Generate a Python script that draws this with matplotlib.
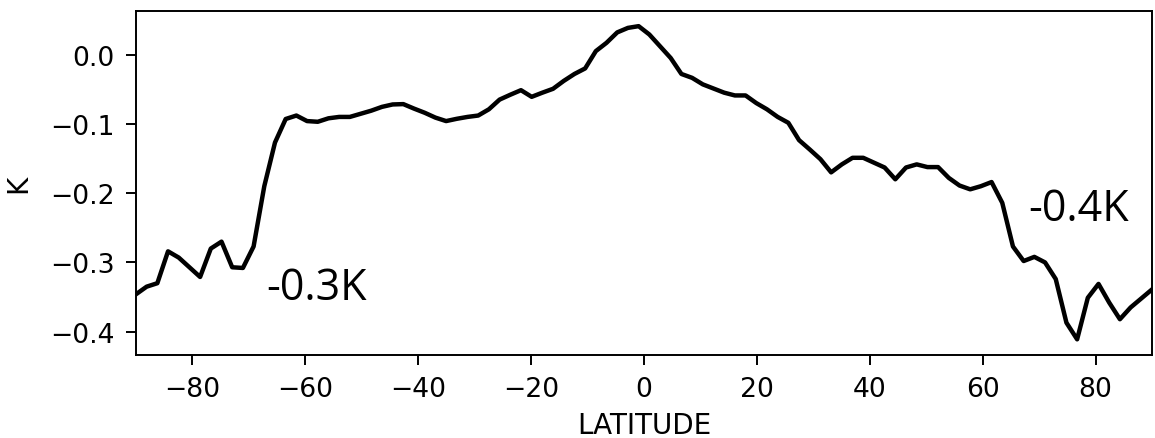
import numpy as np
import matplotlib
matplotlib.use("Agg")
import matplotlib.pyplot as plt

# zonal-mean temperature change on a regular 96-point latitude grid
lat = np.linspace(-90, 90, 96)
dT = [
    -0.346, -0.335, -0.330, -0.284, -0.293, -0.307, -0.321, -0.280, -0.270, -0.307,
    -0.308, -0.277, -0.190, -0.127, -0.093, -0.088, -0.096, -0.097, -0.092, -0.090,
    -0.090, -0.0855, -0.081, -0.0755, -0.072, -0.0715, -0.078, -0.084, -0.091, -0.096,
    -0.0927, -0.090, -0.088, -0.079, -0.065, -0.058, -0.0514, -0.061, -0.055, -0.0494,
    -0.038, -0.028, -0.020, 0.005, 0.017, 0.032, 0.0385, 0.041, 0.029, 0.012,
    -0.005, -0.028, -0.0336, -0.043, -0.049, -0.055, -0.059, -0.059, -0.070, -0.079,
    -0.090, -0.0985, -0.1235, -0.137, -0.151, -0.170, -0.1585, -0.149, -0.149, -0.156,
    -0.163, -0.180, -0.163, -0.1585, -0.1624, -0.1624, -0.178, -0.189, -0.1945, -0.190,
    -0.184, -0.214, -0.277, -0.298, -0.292, -0.300, -0.324, -0.387, -0.411, -0.351,
    -0.331, -0.358, -0.382, -0.365, -0.352, -0.339,
]

# polar means written on the plot
notes = ["-0.3K", "-0.4K"]
note_pos = [(-67.0, -0.353), (68.1, -0.239)]

fig = plt.figure(figsize=(11.55, 4.39), dpi=100)
ax = fig.add_axes([0.1177, 0.1891, 0.8797, 0.7847])

ax.plot(lat, dT, color="black", linewidth=3.2)
ax.set_xlim(-90, 90)

ax.set_xticks([-80, -60, -40, -20, 0, 20, 40, 60, 80])
ax.set_yticks([0.0, -0.1, -0.2, -0.3, -0.4])
ax.tick_params(labelsize=19.2, length=7.2, width=1.4, pad=8)
for s in ax.spines.values():
    s.set_linewidth(1.4)

ax.set_xlabel("LATITUDE", fontsize=20)
ax.set_ylabel("K", fontsize=20)
ax.xaxis.set_label_coords(0.5, -0.163)
ax.yaxis.set_label_coords(-0.102, 0.5)

for txt, (x, y) in zip(notes, note_pos):
    ax.text(x, y, txt, fontsize=31, family="Open Sans", ha="left", va="baseline")

fig.savefig("out.png", dpi=100)
